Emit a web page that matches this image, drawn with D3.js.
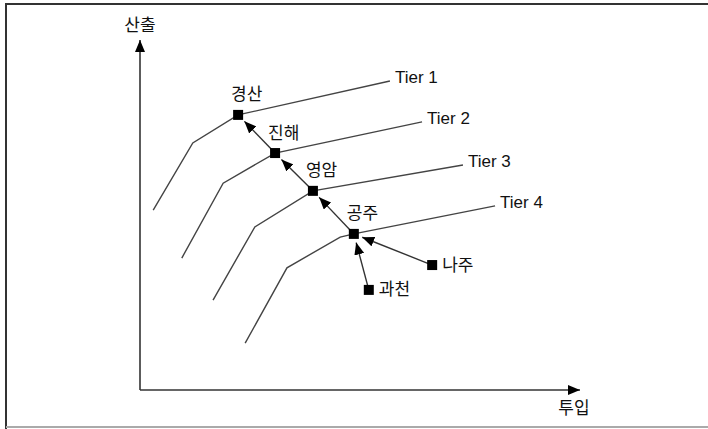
<!DOCTYPE html>
<html>
<head>
<meta charset="utf-8">
<script src="https://cdn.jsdelivr.net/npm/d3@7"></script>
<style>
  body { margin: 0; background: #fff; }
  text { font-family: "Liberation Sans", "Noto Sans CJK KR", sans-serif; font-size: 17px; fill: #111; }
</style>
</head>
<body>
<svg id="chart"></svg>
<script>
// frontier tiers (input, output)
var tierNames = ["Tier 1", "Tier 2", "Tier 3", "Tier 4"];
var tier1 = [[3.0, 51.4], [12.0, 70.6], [22.3, 78.6], [56.8, 88.3]];
var tier2 = [[9.5, 37.7], [18.9, 59.1], [30.7, 67.7], [64.1, 76.6]];
var tier3 = [[16.6, 25.7], [26.1, 46.6], [39.3, 56.9], [73.4, 64.3]];
var tier4 = [[23.9, 13.4], [33.4, 34.9], [45.5, 43.7], [48.6, 44.6], [80.7, 52.6]];
var tiers = [tier1, tier2, tier3, tier4];

// units
var unitNames = ["경산", "진해", "영암", "공주", "나주", "과천"];
var unitX = [22.3, 30.7, 39.3, 48.6, 66.4, 52.0];
var unitY = [78.6, 67.7, 56.9, 44.6, 35.7, 28.6];
var unitLabelSide = ["above", "above", "above", "above", "right", "right"];

// arrows: from -> to (by name)
var arrowFrom = ["진해", "영암", "공주", "나주", "과천"];
var arrowTo = ["경산", "진해", "영암", "공주", "공주"];

var axisLabels = ["투입", "산출"];

var width = 708, height = 429;
var svg = d3.select("#chart").attr("width", width).attr("height", height);

var x = d3.scaleLinear().domain([0, 100]).range([140, 580]);
var y = d3.scaleLinear().domain([0, 100]).range([390, 40]);

var defs = svg.append("defs");
defs.append("marker")
    .attr("id", "head")
    .attr("viewBox", "0 0 12 10")
    .attr("refX", 12).attr("refY", 5)
    .attr("markerWidth", 12).attr("markerHeight", 10)
    .attr("markerUnits", "userSpaceOnUse")
    .attr("orient", "auto")
  .append("path").attr("d", "M0,0L12,5L0,10Z").attr("fill", "#000");

// frame
svg.append("path").attr("d", "M6,430V4H712")
    .attr("fill", "none").attr("stroke", "#333").attr("stroke-width", 2);
svg.append("line").attr("x1", 6).attr("x2", 712).attr("y1", 427).attr("y2", 427)
    .attr("stroke", "#aaa").attr("stroke-width", 2);

// axes
svg.append("line")
    .attr("x1", x(0)).attr("y1", y(0)).attr("x2", x(100)).attr("y2", y(0))
    .attr("stroke", "#333").attr("stroke-width", 1.6).attr("marker-end", "url(#head)");
svg.append("line")
    .attr("x1", x(0)).attr("y1", y(0)).attr("x2", x(0)).attr("y2", y(100))
    .attr("stroke", "#333").attr("stroke-width", 1.6).attr("marker-end", "url(#head)");
svg.append("text").attr("x", x(100) - 6).attr("y", y(0) + 20)
    .attr("text-anchor", "middle").attr("dominant-baseline", "middle").text(axisLabels[0]);
svg.append("text").attr("x", x(0)).attr("y", y(100) - 13)
    .attr("text-anchor", "middle").attr("dominant-baseline", "middle").text(axisLabels[1]);

// tier lines
var line = d3.line().x(d => x(d[0])).y(d => y(d[1]));
svg.append("g").selectAll("path")
    .data(tiers).enter().append("path")
    .attr("d", line)
    .attr("fill", "none").attr("stroke", "#444").attr("stroke-width", 1.4);
svg.append("g").selectAll("text")
    .data(tiers).enter().append("text")
    .attr("x", d => x(d[d.length - 1][0]) + 5)
    .attr("y", d => y(d[d.length - 1][1]) - 2)
    .attr("dominant-baseline", "middle")
    .text((d, i) => tierNames[i]);

// arrows
var arrows = arrowFrom.map((f, i) => {
    var a = unitNames.indexOf(f), b = unitNames.indexOf(arrowTo[i]);
    return { x1: x(unitX[a]), y1: y(unitY[a]), x2: x(unitX[b]), y2: y(unitY[b]) };
});
svg.append("g").selectAll("line")
    .data(arrows).enter().append("line")
    .attr("x1", d => d.x1).attr("y1", d => d.y1)
    .attr("x2", d => {
        var len = Math.hypot(d.x2 - d.x1, d.y2 - d.y1);
        return d.x2 - (d.x2 - d.x1) / len * 9;
    })
    .attr("y2", d => {
        var len = Math.hypot(d.x2 - d.x1, d.y2 - d.y1);
        return d.y2 - (d.y2 - d.y1) / len * 9;
    })
    .attr("stroke", "#333").attr("stroke-width", 1.4).attr("marker-end", "url(#head)");

// unit squares and labels
var units = svg.append("g").selectAll("g")
    .data(unitNames).enter().append("g");
units.append("rect")
    .attr("x", (d, i) => x(unitX[i]) - 5)
    .attr("y", (d, i) => y(unitY[i]) - 5)
    .attr("width", 10).attr("height", 10)
    .attr("fill", "#000");
units.append("text")
    .attr("x", (d, i) => unitLabelSide[i] == "above" ? x(unitX[i]) - 7 : x(unitX[i]) + 10)
    .attr("y", (d, i) => unitLabelSide[i] == "above" ? y(unitY[i]) - 19 : y(unitY[i]) + 1)
    .attr("dominant-baseline", "middle")
    .text(d => d);
</script>
</body>
</html>
